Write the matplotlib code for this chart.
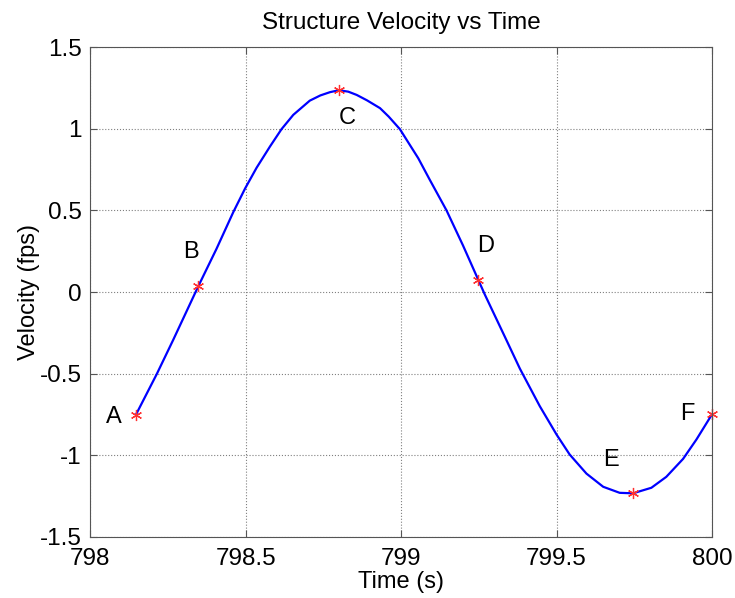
import matplotlib
matplotlib.use('Agg')
import matplotlib.pyplot as plt

plt.rcParams['font.family'] = ['Liberation Sans', 'DejaVu Sans']

# curve
time = [798.147, 798.214, 798.267, 798.347, 798.406, 798.46, 798.498, 798.535,
        798.578, 798.615, 798.653, 798.706, 798.74, 798.771, 798.80, 798.83,
        798.857, 798.89, 798.932, 798.96, 798.996, 799.055, 799.092, 799.146,
        799.199, 799.248, 799.269, 799.333, 799.382, 799.446, 799.50, 799.542,
        799.596, 799.65, 799.703, 799.746, 799.805, 799.853, 799.907, 799.95,
        800.0]
velocity = [-0.751, -0.502, -0.292, 0.034, 0.265, 0.49, 0.635, 0.762,
            0.892, 0.998, 1.086, 1.173, 1.205, 1.225, 1.237, 1.228,
            1.208, 1.175, 1.127, 1.075, 0.998, 0.82, 0.688, 0.50,
            0.285, 0.075, -0.015, -0.272, -0.47, -0.70, -0.874, -0.996,
            -1.113, -1.194, -1.231, -1.234, -1.20, -1.133, -1.023, -0.904,
            -0.750]

# marked points
pt_names = ['A', 'B', 'C', 'D', 'E', 'F']
pt_time = [798.147, 798.347, 798.80, 799.248, 799.746, 800.0]
pt_vel = [-0.751, 0.034, 1.237, 0.075, -1.234, -0.750]
lbl_time = [798.076, 798.324, 798.826, 799.273, 799.675, 799.922]
lbl_vel = [-0.765, 0.245, 1.067, 0.28, -1.03, -0.745]

fig = plt.figure(figsize=(7.35, 5.98), dpi=100)
ax = fig.add_axes([0.1229, 0.1025, 0.9687 - 0.1229, 0.9209 - 0.1025])

ax.plot(time, velocity, color='#0000ff', lw=1.6)
ax.plot(pt_time, pt_vel, ls='none', marker=(6, 2, 0), color='#ff3030',
        ms=8, mew=0.9, clip_on=False)
for n, tx, ty in zip(pt_names, lbl_time, lbl_vel):
    ax.text(tx, ty, n, ha='center', va='center', fontsize=17)

ax.set_xlim(798, 800)
ax.set_ylim(-1.5, 1.5)
ax.set_xticks([798, 798.5, 799, 799.5, 800])
ax.set_xticklabels(['798', '798.5', '799', '799.5', '800'])
ax.set_yticks([-1.5, -1, -0.5, 0, 0.5, 1, 1.5])
ax.set_yticklabels(['-1.5', '-1', '-0.5', '0', '0.5', '1', '1.5'])
ax.grid(True, ls=':', lw=0.8, color='#808080')
ax.tick_params(direction='in', length=5, top=True, right=True, labelsize=17.5,
               color='#555555')
ax.tick_params(axis='x', pad=8)
ax.tick_params(axis='y', pad=6)
for s in ax.spines.values():
    s.set_color('#555555')

ax.set_title('Structure Velocity vs Time', fontsize=17.5, pad=13)
ax.set_xlabel('Time (s)', fontsize=17, labelpad=1)
ax.set_ylabel('Velocity (fps)', fontsize=17, labelpad=0)

fig.savefig('out.png', dpi=100)
